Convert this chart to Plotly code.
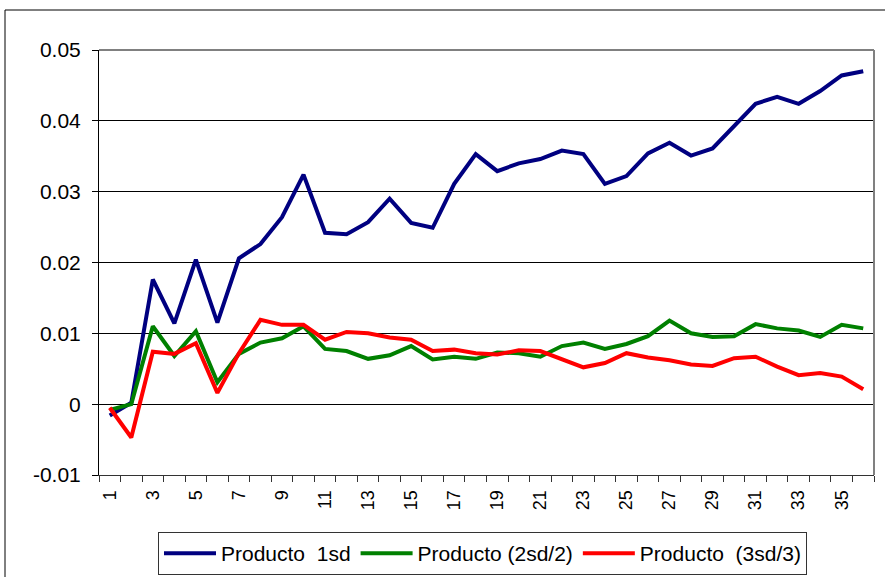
import plotly.graph_objects as go

categories = list(range(1, 37))

producto_1sd = [-0.0016, 0.0002, 0.0176, 0.0114, 0.0204, 0.0115, 0.0206, 0.0226, 0.0264, 0.0324,
                0.0242, 0.0240, 0.0257, 0.0290, 0.0256, 0.0249, 0.0311, 0.0353, 0.0329, 0.0340,
                0.0346, 0.0358, 0.0353, 0.0311, 0.0322, 0.0354, 0.0369, 0.0351, 0.0361, 0.0392,
                0.0424, 0.0434, 0.0424, 0.0442, 0.0464, 0.0470]

producto_2sd = [-0.0008, 0.0000, 0.0110, 0.0068, 0.0103, 0.0031, 0.0071, 0.0087, 0.0093, 0.0110,
                0.0078, 0.0075, 0.0064, 0.0069, 0.0082, 0.0063, 0.0067, 0.0064, 0.0073, 0.0072,
                0.0067, 0.0082, 0.0087, 0.0078, 0.0085, 0.0096, 0.0118, 0.0100, 0.0095, 0.0096,
                0.0113, 0.0107, 0.0104, 0.0095, 0.0112, 0.0107]

producto_3sd = [-0.0005, -0.0047, 0.0074, 0.0071, 0.0086, 0.0016, 0.0072, 0.0119, 0.0112, 0.0112,
                0.0091, 0.0102, 0.0100, 0.0094, 0.0091, 0.0075, 0.0077, 0.0072, 0.0070, 0.0076,
                0.0075, 0.0064, 0.0052, 0.0058, 0.0072, 0.0066, 0.0062, 0.0056, 0.0054, 0.0065,
                0.0067, 0.0053, 0.0041, 0.0044, 0.0039, 0.0021]

series_names = ["Producto\u00a0 1sd", "Producto (2sd/2)", "Producto\u00a0 (3sd/3)"]
series_colors = ["#000080", "#008000", "#FF0000"]

x_tick_vals = list(range(1, 37, 2))
x_tick_text = [str(v) for v in x_tick_vals]
y_tick_vals = [-0.01, 0, 0.01, 0.02, 0.03, 0.04, 0.05]
y_tick_text = ["-0.01", "0", "0.01", "0.02", "0.03", "0.04", "0.05"]

W, H = 885, 577
ML, MR, MT, MB = 99, 11, 50, 102
PW, PH = W - ML - MR, H - MT - MB

def px_x(p):
    return (p - ML) / PW

def px_y(p):
    return (H - MB - p) / PH

fig = go.Figure()
for name, vals, col in zip(series_names, [producto_1sd, producto_2sd, producto_3sd], series_colors):
    fig.add_trace(go.Scatter(x=categories, y=vals, mode="lines", name=name,
                             line=dict(color=col, width=4)))

fig.update_layout(
    width=W, height=H,
    margin=dict(l=ML, r=MR, t=MT, b=MB, pad=0, autoexpand=False),
    paper_bgcolor="white", plot_bgcolor="white",
    font=dict(family="Liberation Sans, Arial, sans-serif", color="black"),
    showlegend=True,
    legend=dict(orientation="h", x=px_x(158), y=px_y(575), xanchor="left", yanchor="bottom",
                bordercolor="#333333", borderwidth=1, font=dict(size=21),
                tracegroupgap=0, itemwidth=52),
    xaxis=dict(range=[0.5, 36.5], tickmode="array", tickvals=x_tick_vals, ticktext=x_tick_text,
               tickangle=-90, ticks="", tickfont=dict(size=18), ticklabelstandoff=7,
               showgrid=False, zeroline=False, showline=True, linecolor="#333333", linewidth=1,
               minor=dict(tickmode="array", tickvals=[k + 0.5 for k in range(37)],
                          ticks="outside", ticklen=6, tickcolor="#333333", showgrid=False)),
    yaxis=dict(range=[-0.01, 0.05], tickmode="array", tickvals=y_tick_vals, ticktext=y_tick_text,
               ticks="outside", ticklen=6, tickcolor="black", tickfont=dict(size=21),
               ticklabelstandoff=7,
               showgrid=True, gridcolor="black", gridwidth=1,
               zeroline=True, zerolinecolor="black", zerolinewidth=1,
               showline=True, linecolor="black", linewidth=1),
    shapes=[
        dict(type="line", xref="paper", yref="paper", x0=0, x1=1, y0=1, y1=1,
             line=dict(color="#808080", width=2), layer="above"),
        dict(type="line", xref="paper", yref="paper", x0=1, x1=1, y0=0, y1=1,
             line=dict(color="#808080", width=2), layer="above"),
        dict(type="rect", xref="paper", yref="paper", x0=px_x(5), x1=px_x(900),
             y0=px_y(600), y1=px_y(10), line=dict(color="black", width=1),
             fillcolor="rgba(0,0,0,0)", layer="above"),
    ],
)

fig.write_html("out.html", config={"displayModeBar": False},
               post_script="document.body.style.margin='0';document.body.style.overflow='hidden';")
